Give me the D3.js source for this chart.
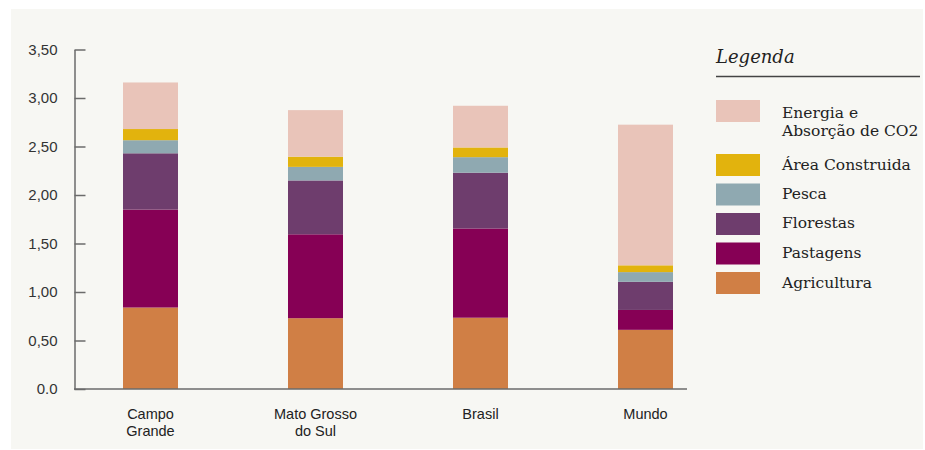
<!DOCTYPE html>
<html>
<head>
<meta charset="utf-8">
<script src="https://cdn.jsdelivr.net/npm/d3@7"></script>
<style>
  html, body { margin: 0; padding: 0; background: #ffffff; }
  svg { display: block; }
</style>
</head>
<body>
<svg id="chart" width="925" height="450"></svg>
<script>
// ---- data ----
const categories = ["Campo Grande", "Mato Grosso do Sul", "Brasil", "Mundo"];
const categoryLines = [["Campo", "Grande"], ["Mato Grosso", "do Sul"], ["Brasil"], ["Mundo"]];
const seriesNames = ["Agricultura", "Pastagens", "Florestas", "Pesca", "Área Construida", "Energia e Absorção de CO2"];
const agricultura = [0.84, 0.73, 0.735, 0.61];
const pastagens   = [1.01, 0.865, 0.92, 0.205];
const florestas   = [0.58, 0.555, 0.575, 0.29];
const pesca       = [0.135, 0.14, 0.16, 0.10];
const areaConstruida = [0.115, 0.105, 0.10, 0.07];
const energia     = [0.48, 0.48, 0.43, 1.45];
const seriesColors = ["#d07f45", "#860055", "#6e3d6d", "#8fa9b1", "#e2b30d", "#e9c4b9"];
const yTicks = [0, 0.5, 1, 1.5, 2, 2.5, 3, 3.5];
const yTickLabels = ["0.0", "0,50", "1,00", "1,50", "2,00", "2,50", "3,00", "3,50"];
const legendTitle = "Legenda";
const legendOrder = [5, 4, 3, 2, 1, 0];
const legendLabels = {5: ["Energia e", "Absorção de CO2"]};

// ---- build table ----
const seriesValues = [agricultura, pastagens, florestas, pesca, areaConstruida, energia];
const rows = categories.map((c, i) => {
  const r = {category: c};
  seriesNames.forEach((s, j) => r[s] = seriesValues[j][i]);
  return r;
});
const stacked = d3.stack().keys(seriesNames)(rows);

const svg = d3.select("#chart");
// panel background
svg.append("rect").attr("x", 11).attr("y", 9).attr("width", 912).attr("height", 440).attr("fill", "#f7f7f3");

const y = d3.scaleLinear().domain([0, 3.5]).range([389, 49.5]);
const x = d3.scalePoint().domain(categories).range([150.5, 645.5]);
const barW = 55;
const color = d3.scaleOrdinal().domain(seriesNames).range(seriesColors);

// bars
svg.append("g").selectAll("g").data(stacked).join("g")
  .attr("fill", d => color(d.key))
  .selectAll("rect").data(d => d).join("rect")
  .attr("x", d => x(d.data.category) - barW / 2)
  .attr("width", barW)
  .attr("y", d => y(d[1]))
  .attr("height", d => y(d[0]) - y(d[1]));

// y axis
const axisColor = "#6b6b6b";
const yAxis = d3.axisLeft(y).tickValues(yTicks)
  .tickFormat((d, i) => yTickLabels[i]).tickSizeInner(-11).tickSizeOuter(0).tickPadding(17);
const gy = svg.append("g").attr("transform", "translate(74.5,0)").call(yAxis);
gy.select(".domain").attr("stroke", axisColor).attr("stroke-width", 1.5);
gy.selectAll(".tick line").attr("stroke", axisColor).attr("stroke-width", 1.5);
gy.selectAll(".tick text").attr("font-family", "Liberation Sans, Arial, sans-serif")
  .attr("font-size", 15).attr("fill", "#333");

// x axis baseline
svg.append("line").attr("x1", 74).attr("x2", 687).attr("y1", y(0)).attr("y2", y(0))
  .attr("stroke", axisColor).attr("stroke-width", 1.5);

// x labels
const xl = svg.append("g").selectAll("text").data(categories).join("text")
  .attr("x", d => x(d)).attr("y", 419)
  .attr("text-anchor", "middle")
  .attr("font-family", "Liberation Sans, Arial, sans-serif")
  .attr("font-size", 14.5).attr("fill", "#222");
xl.selectAll("tspan").data((d, i) => categoryLines[i]).join("tspan")
  .attr("x", function() { return this.parentNode.getAttribute("x"); })
  .attr("dy", (d, i) => i === 0 ? 0 : 16.5)
  .text(d => d);

// legend
const lg = svg.append("g");
lg.append("text").attr("x", 716).attr("y", 63).text(legendTitle)
  .attr("font-family", "DejaVu Serif, serif").attr("font-style", "italic")
  .attr("font-size", 18).attr("fill", "#222");
lg.append("line").attr("x1", 716).attr("x2", 920).attr("y1", 76.5).attr("y2", 76.5)
  .attr("stroke", "#444").attr("stroke-width", 1.5);
const swY = [100, 154, 183.5, 213, 242.5, 272];
const txY = [117.5, 170, 198.5, 228, 257.5, 287.5];
legendOrder.forEach((si, k) => {
  lg.append("rect").attr("x", 716).attr("y", swY[k]).attr("width", 44).attr("height", 22)
    .attr("fill", seriesColors[si]);
  const lines = legendLabels[si] || [seriesNames[si]];
  lines.forEach((ln, li) => lg.append("text").attr("x", 782).attr("y", txY[k] + li * 18)
    .attr("font-family", "DejaVu Serif, serif").attr("font-size", 15.5).attr("fill", "#222")
    .text(ln));
});
</script>
</body>
</html>
